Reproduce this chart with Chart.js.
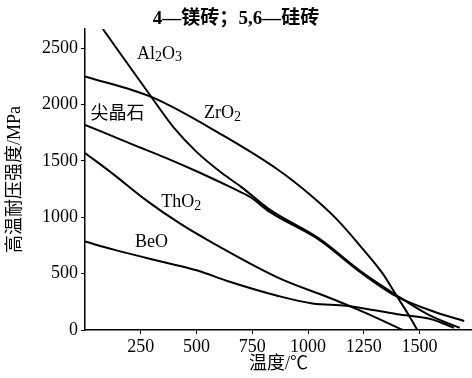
<!DOCTYPE html>
<html>
<head>
<meta charset="utf-8">
<script src="https://cdn.jsdelivr.net/npm/chart.js@4/dist/chart.umd.min.js"></script>
<style>
  body { margin: 0; background: #fff; }
  canvas { display: block; }
</style>
</head>
<body>
<canvas id="strengthChart" width="472" height="378"></canvas>
<script>
// 各材料高温耐压强度曲线（温度 ℃ / 强度 MPa）
const al2o3Temp = [80, 300, 400, 500, 615, 700, 830, 1050, 1230, 1395, 1545, 1680];
const al2o3Mpa  = [2670, 2060, 1790, 1580, 1390, 1270, 1065, 810, 530, 310, 130, 20];

const zro2Temp = [0, 300, 615, 870, 1000, 1125, 1245, 1335, 1395, 1455, 1490];
const zro2Mpa  = [2250, 2065, 1730, 1415, 1215, 990, 720, 500, 310, 120, 0];

const spinelTemp = [0, 215, 365, 515, 660, 740, 830, 1050, 1230, 1395, 1575, 1700];
const spinelMpa  = [1820, 1645, 1525, 1395, 1260, 1180, 1045, 800, 520, 300, 155, 80];

const tho2Temp = [0, 125, 275, 425, 570, 870, 1110, 1260, 1425];
const tho2Mpa  = [1570, 1385, 1150, 945, 775, 460, 275, 150, 0];

const beoTemp = [0, 125, 345, 500, 645, 870, 1020, 1170, 1300, 1400, 1545, 1655];
const beoMpa  = [785, 715, 605, 530, 430, 300, 235, 215, 175, 140, 100, 20];

const xTickLabels = [250, 500, 750, 1000, 1250, 1500];
const yTickLabels = [0, 500, 1000, 1500, 2000, 2500];

// 曲线旁的文字（数据坐标）
const curveNames = ['Al2O3', 'ZrO2', '尖晶石', 'ThO2', 'BeO'];
const nameTemp   = [334, 616, 146, 432, 298];
const nameMpa    = [2450, 1920, 1910, 1136, 776];

const FONT = '"Liberation Serif", "Noto Sans CJK SC", serif';

function toPoints(temps, vals) {
    return temps.map((t, i) => ({ x: t, y: vals[i] }));
}

function lineSet(temps, vals) {
    return {
        data: toPoints(temps, vals),
        borderColor: '#000',
        borderWidth: 2,
        pointRadius: 0,
        fill: false,
        cubicInterpolationMode: 'monotone'
    };
}

// 画曲线名称，数字作下标
const curveNamePlugin = {
    id: 'curveNames',
    afterDatasetsDraw(chart) {
        const ctx = chart.ctx;
        const xs = chart.scales.x;
        const ys = chart.scales.y;
        ctx.save();
        ctx.fillStyle = '#000';
        ctx.textBaseline = 'middle';
        ctx.textAlign = 'left';
        curveNames.forEach((name, i) => {
            const cx = xs.getPixelForValue(nameTemp[i]);
            const cy = ys.getPixelForValue(nameMpa[i]);
            const parts = name.split('').map(ch => ({ ch, sub: /[0-9]/.test(ch) }));
            let total = 0;
            parts.forEach(p => {
                ctx.font = (p.sub ? '14px ' : '18px ') + FONT;
                p.w = ctx.measureText(p.ch).width;
                total += p.w;
            });
            let x = cx - total / 2;
            parts.forEach(p => {
                ctx.font = (p.sub ? '14px ' : '18px ') + FONT;
                ctx.fillText(p.ch, x, p.sub ? cy + 4 : cy);
                x += p.w;
            });
        });
        ctx.restore();
    }
};

const ctx = document.getElementById('strengthChart').getContext('2d');
new Chart(ctx, {
    type: 'line',
    data: {
        datasets: [
            lineSet(al2o3Temp, al2o3Mpa),
            lineSet(zro2Temp, zro2Mpa),
            lineSet(spinelTemp, spinelMpa),
            lineSet(tho2Temp, tho2Mpa),
            lineSet(beoTemp, beoMpa)
        ]
    },
    options: {
        responsive: false,
        animation: false,
        layout: { padding: 0 },
        plugins: {
            legend: { display: false },
            tooltip: { enabled: false },
            title: {
                display: true,
                text: '4—镁砖；5,6—硅砖',
                color: '#000',
                font: { family: FONT, size: 19, weight: 'bold', lineHeight: 1 },
                padding: { top: 10, bottom: 0 }
            }
        },
        scales: {
            x: {
                type: 'linear',
                min: 0,
                max: 1735,
                afterBuildTicks: axis => {
                    axis.ticks = xTickLabels.map(v => ({ value: v }));
                },
                afterFit: axis => { axis.height = 48; },
                border: { color: '#000', width: 1.5 },
                grid: { drawOnChartArea: false, color: '#000', tickLength: 4 },
                ticks: {
                    color: '#000',
                    padding: 2,
                    font: { family: FONT, size: 18 },
                    callback: v => String(v)
                },
                title: {
                    display: true,
                    text: '温度/℃',
                    color: '#000',
                    font: { family: FONT, size: 18 },
                    padding: { top: 3, bottom: 3 }
                }
            },
            y: {
                min: 0,
                max: 2670,
                afterBuildTicks: axis => {
                    axis.ticks = yTickLabels.map(v => ({ value: v }));
                },
                afterFit: axis => { axis.width = 85; },
                border: { color: '#000', width: 1.5 },
                grid: { drawOnChartArea: false, color: '#000', tickLength: 4 },
                ticks: {
                    color: '#000',
                    padding: 3,
                    font: { family: FONT, size: 18 },
                    callback: v => String(v)
                },
                title: {
                    display: true,
                    text: '高温耐压强度/MPa',
                    color: '#000',
                    font: { family: FONT, size: 18 },
                    padding: { top: 4, bottom: 4 }
                }
            }
        }
    },
    plugins: [curveNamePlugin]
});
</script>
</body>
</html>
